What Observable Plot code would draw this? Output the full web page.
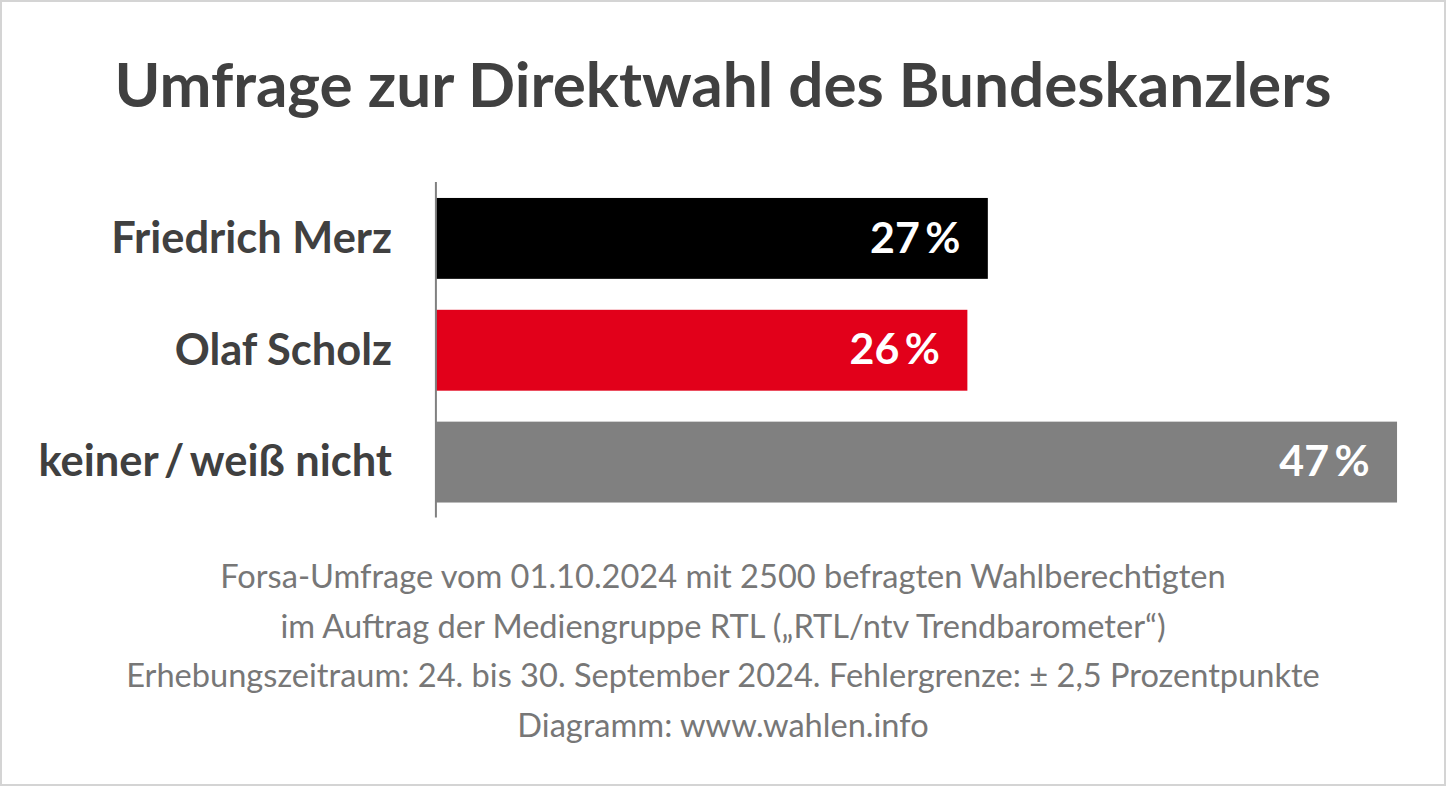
<!DOCTYPE html>
<html><head><meta charset="utf-8">
<script src="https://cdn.jsdelivr.net/npm/d3@7"></script>
<script src="https://cdn.jsdelivr.net/npm/@observablehq/plot@0.6"></script>
<style>
html,body{margin:0;padding:0;background:#fff;}
#wrap{position:relative;width:1446px;height:786px;box-sizing:border-box;border:2px solid #d4d4d4;font-family:Lato,sans-serif;overflow:hidden;}
#title{position:absolute;left:0;top:41px;width:100%;text-align:center;font-size:62px;font-weight:700;color:#404040;line-height:80px;}
#chart{position:absolute;left:-2px;top:166px;}
#foot{position:absolute;left:0;top:549px;width:100%;text-align:center;font-size:32.6px;color:#777;line-height:49.6px;}
</style></head>
<body><div id="wrap">
<div id="title">Umfrage zur Direktwahl des Bundeskanzlers</div>
<div id="chart"></div>
<div id="foot"></div>
</div>
<script>
const categories = ["Friedrich Merz", "Olaf Scholz", "keiner/weiß nicht"];
const values = [27, 26, 47];
const colors = ["#000000", "#e2001a", "#808080"];
const footLines = [
  "Forsa-Umfrage vom 01.10.2024 mit 2500 befragten Wahlberechtigten",
  "im Auftrag der Mediengruppe RTL („RTL/ntv Trendbarometer“)",
  "Erhebungszeitraum: 24. bis 30. September 2024. Fehlergrenze: ± 2,5 Prozentpunkte",
  "Diagramm: www.wahlen.info"
];
const data = categories.map((c, i) => ({cat: c, value: values[i], color: colors[i]}));
const displayCat = c => c.replace("/", "\u2009/\u2009");

const chart = Plot.plot({
  width: 1446,
  height: 362,
  marginLeft: 436,
  marginRight: 47,
  marginTop: 14,
  marginBottom: 12,
  style: {fontFamily: "Lato, sans-serif", background: "transparent"},
  x: {domain: [0, 47], axis: null},
  y: {domain: categories, paddingInner: 0.277, paddingOuter: 0.1385, label: null},
  marks: [
    Plot.barX(data, {x: "value", y: "cat", fill: "color"}),
    Plot.ruleX([0], {stroke: "#808080", strokeWidth: 2}),
    Plot.axisY({tickSize: 0, tickPadding: 44, fontSize: 43.5, fontWeight: "bold", fill: "#404040", label: null, tickFormat: displayCat}),
    Plot.text(data, {x: "value", y: "cat", text: d => d.value + "\u2009%", textAnchor: "end", dx: -28, fill: "white", fontSize: 43, fontWeight: "bold"})
  ]
});
document.getElementById("chart").appendChild(chart);
document.getElementById("foot").innerHTML = footLines.map(l => `<div>${l}</div>`).join("");
</script>
</body></html>
